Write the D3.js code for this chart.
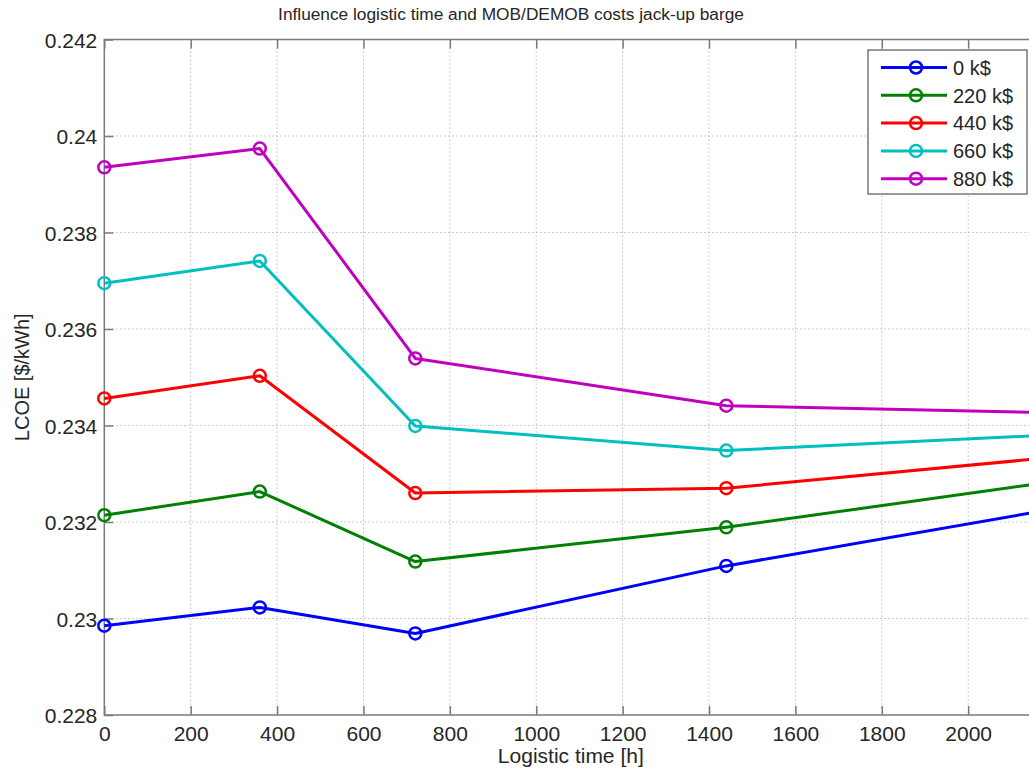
<!DOCTYPE html>
<html>
<head>
<meta charset="utf-8">
<script src="https://cdn.jsdelivr.net/npm/d3@7"></script>
<style>
  html, body { margin: 0; padding: 0; background: #fff; }
  svg { display: block; font-family: "Liberation Sans", Arial, sans-serif; }
</style>
</head>
<body>
<div id="chart"></div>
<script>
// logistic time [h]
const logisticTime = [0, 360, 720, 1440, 2160];

// MOB/DEMOB cost series, LCOE [$/kWh]
const seriesNames = ['0 k$', '220 k$', '440 k$', '660 k$', '880 k$'];
const lcoe0 = [0.22985, 0.23023, 0.22969, 0.23109, 0.23221];
const lcoe220 = [0.23214, 0.23263, 0.23118, 0.23189, 0.23279];
const lcoe440 = [0.23456, 0.23503, 0.23260, 0.23270, 0.23331];
const lcoe660 = [0.23695, 0.23741, 0.23399, 0.23348, 0.23379];
const lcoe880 = [0.23935, 0.23974, 0.23539, 0.23441, 0.23427];
const seriesColors = ['#0000ff', '#008000', '#ff0000', '#00bfbf', '#bf00bf'];

const xTicks = [0, 200, 400, 600, 800, 1000, 1200, 1400, 1600, 1800, 2000];
const yTicks = [0.228, 0.23, 0.232, 0.234, 0.236, 0.238, 0.24, 0.242];

const widthSvg = 1029;
const heightSvg = 775;
const margin = { top: 39.5, left: 104.3 };
const widthChart = 933;   // axes continue past the right edge of the picture
const heightChart = 675.5;

const allSeries = [lcoe0, lcoe220, lcoe440, lcoe660, lcoe880].map((vals, i) => ({
  name: seriesNames[i],
  color: seriesColors[i],
  values: vals.map((v, j) => ({ x: logisticTime[j], y: v }))
}));

const scaleX = d3.scaleLinear().domain([0, 2160]).range([0, widthChart]);
const scaleY = d3.scaleLinear().domain([0.228, 0.242]).range([heightChart, 0]);

const svg = d3.select('#chart').append('svg')
  .attr('width', widthSvg)
  .attr('height', heightSvg);

const groupChart = svg.append('g')
  .attr('transform', `translate(${margin.left}, ${margin.top})`);

// grid
const gridColor = '#bdbdbd';
groupChart.append('g').selectAll('line').data(xTicks.slice(1)).join('line')
  .attr('x1', d => scaleX(d)).attr('x2', d => scaleX(d))
  .attr('y1', 0).attr('y2', heightChart)
  .attr('stroke', gridColor).attr('stroke-width', 1).attr('stroke-dasharray', '1.5,2.5');
groupChart.append('g').selectAll('line').data(yTicks.slice(1, -1)).join('line')
  .attr('y1', d => scaleY(d)).attr('y2', d => scaleY(d))
  .attr('x1', 0).attr('x2', widthChart)
  .attr('stroke', gridColor).attr('stroke-width', 1).attr('stroke-dasharray', '1.5,2.5');

// axes, matlab style: inner ticks, no domain path
const fmtY = d => String(+d.toFixed(3));
const axisColor = '#7a7a7a';
const tickLen = 9;

const groupAxisX = groupChart.append('g')
  .attr('transform', `translate(0, ${heightChart})`)
  .call(d3.axisBottom(scaleX).tickValues(xTicks).tickFormat(d3.format('d'))
    .tickSizeInner(-tickLen).tickSizeOuter(0).tickPadding(11));
const groupAxisY = groupChart.append('g')
  .call(d3.axisLeft(scaleY).tickValues(yTicks).tickFormat(fmtY).tickSizeInner(-tickLen).tickSizeOuter(0).tickPadding(7));
const groupAxisTop = groupChart.append('g')
  .call(d3.axisTop(scaleX).tickValues(xTicks).tickFormat('').tickSizeInner(-tickLen).tickSizeOuter(0));

[groupAxisX, groupAxisY, groupAxisTop].forEach(g => {
  g.select('.domain').remove();
  g.selectAll('.tick line').attr('stroke', axisColor).attr('stroke-width', 1.5);
  g.selectAll('.tick text')
    .attr('fill', '#262626')
    .attr('font-size', 21)
    .attr('font-family', '"Liberation Sans", Arial, sans-serif');
});
groupAxisY.selectAll('.tick text').attr('dy', '0.36em');

// box
groupChart.append('path')
  .attr('d', `M${widthChart},0H0V${heightChart}H${widthChart}`)
  .attr('fill', 'none')
  .attr('stroke', axisColor)
  .attr('stroke-width', 1.5);

// series
const line = d3.line().x(d => scaleX(d.x)).y(d => scaleY(d.y));
const groupSeries = groupChart.append('g').selectAll('g').data(allSeries).join('g');
groupSeries.append('path')
  .attr('d', d => line(d.values))
  .attr('fill', 'none')
  .attr('stroke', d => d.color)
  .attr('stroke-width', 3)
  .attr('stroke-linejoin', 'round');
groupSeries.selectAll('circle').data(d => d.values.map(v => ({ ...v, color: d.color }))).join('circle')
  .attr('cx', d => scaleX(d.x))
  .attr('cy', d => scaleY(d.y))
  .attr('r', 6)
  .attr('fill', 'none')
  .attr('stroke', d => d.color)
  .attr('stroke-width', 2.5);

// title and labels
svg.append('text')
  .attr('x', 511).attr('y', 20)
  .attr('text-anchor', 'middle')
  .attr('font-size', 17.3)
  .attr('fill', '#262626')
  .text('Influence logistic time and MOB/DEMOB costs jack-up barge');

svg.append('text')
  .attr('x', margin.left + widthChart / 2).attr('y', 763)
  .attr('text-anchor', 'middle')
  .attr('font-size', 21)
  .attr('fill', '#262626')
  .text('Logistic time [h]');

svg.append('text')
  .attr('transform', `translate(29, ${margin.top + heightChart / 2}) rotate(-90)`)
  .attr('text-anchor', 'middle')
  .attr('font-size', 20)
  .attr('fill', '#262626')
  .text('LCOE [$/kWh]');

// legend
const legend = svg.append('g').attr('transform', 'translate(868, 50)');
legend.append('rect')
  .attr('width', 159).attr('height', 144)
  .attr('fill', '#fff')
  .attr('stroke', '#555')
  .attr('stroke-width', 1.2);
const rowH = 27.8;
const legendRows = legend.selectAll('g.row').data(allSeries).join('g')
  .attr('class', 'row')
  .attr('transform', (d, i) => `translate(0, ${17.5 + i * rowH})`);
legendRows.append('line')
  .attr('x1', 13).attr('x2', 79)
  .attr('stroke', d => d.color).attr('stroke-width', 3);
legendRows.append('circle')
  .attr('cx', 48).attr('r', 6)
  .attr('fill', 'none')
  .attr('stroke', d => d.color).attr('stroke-width', 2.5);
legendRows.append('text')
  .attr('x', 85).attr('dy', '0.36em')
  .attr('font-size', 20)
  .attr('fill', '#262626')
  .text(d => d.name);
</script>
</body>
</html>
